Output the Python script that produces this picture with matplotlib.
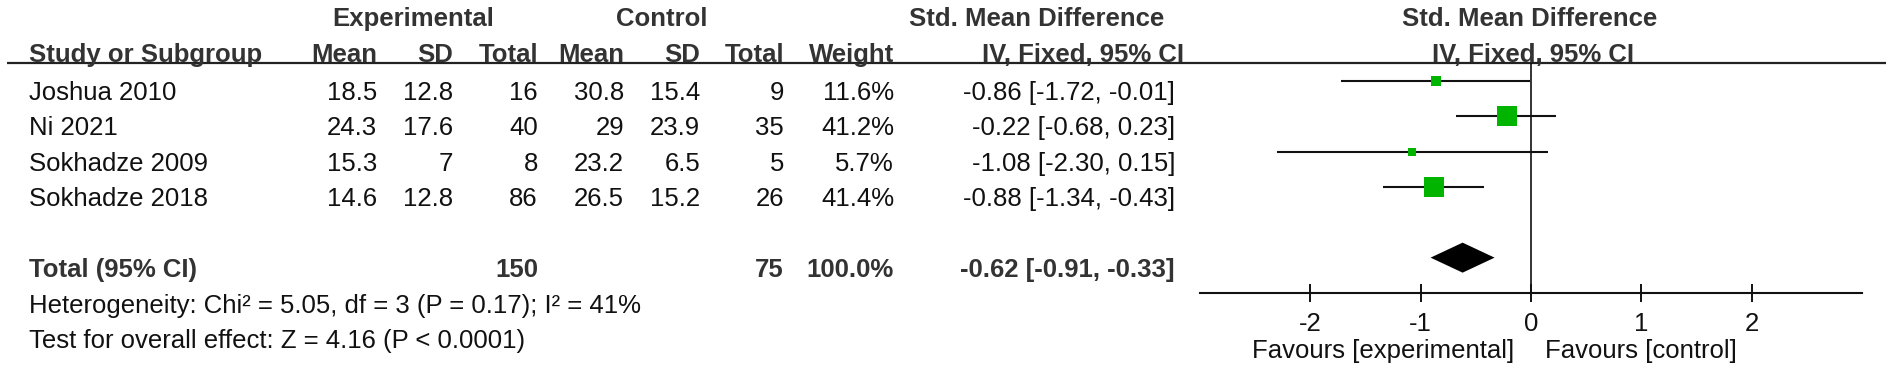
import matplotlib
matplotlib.use("Agg")
import matplotlib.pyplot as plt
import matplotlib.transforms as mtransforms

# ---------------- data ----------------
studies = ["Joshua 2010", "Ni 2021", "Sokhadze 2009", "Sokhadze 2018"]
exp_mean = [18.5, 24.3, 15.3, 14.6]
exp_sd = [12.8, 17.6, 7, 12.8]
exp_n = [16, 40, 8, 86]
ctl_mean = [30.8, 29, 23.2, 26.5]
ctl_sd = [15.4, 23.9, 6.5, 15.2]
ctl_n = [9, 35, 5, 26]
weights = [11.6, 41.2, 5.7, 41.4]
smd = [-0.86, -0.22, -1.08, -0.88]
ci_low = [-1.72, -0.68, -2.30, -1.34]
ci_high = [-0.01, 0.23, 0.15, -0.43]

total_label = "Total (95% CI)"
total_exp_n = 150
total_ctl_n = 75
total_weight = 100.0
total_smd = -0.62
total_low = -0.91
total_high = -0.33

heterogeneity = "Heterogeneity: Chi\u00b2 = 5.05, df = 3 (P = 0.17); I\u00b2 = 41%"
overall = "Test for overall effect: Z = 4.16 (P < 0.0001)"
x_ticks = [-2, -1, 0, 1, 2]
x_limits = [-3, 3]
favours_left = "Favours [experimental]"
favours_right = "Favours [control]"

# ---------------- styling ----------------
W, H = 1890, 378
DPI = 100
FONT = "Liberation Sans"
FS = 18.5
HEAD_C = "#333333"
TXT_C = "#111111"
GREEN = "#00B400"

plt.rcParams["font.family"] = [FONT, "DejaVu Sans"]

fig = plt.figure(figsize=(W / DPI, H / DPI), dpi=DPI)

# row geometry (pixels): first study line at y=81, spacing 35.33 px
ROW0, ROWH = 81.0, 35.33
def px_to_row(ypx):
    return (ypx - ROW0) / ROWH

axt = fig.add_axes([0, 0, 1, 1])
axt.set_xlim(0, W)
axt.set_ylim(px_to_row(H), px_to_row(0))
axt.axis("off")

BASE = 0.54  # baseline offset of text below the row line (rows)
total_row = len(studies) + 1

def t(x, y, s, ha="right", bold=False, color=TXT_C, **kw):
    axt.text(x, y, s, ha=ha, va="baseline", fontsize=FS,
             fontweight="bold" if bold else "normal", color=color, **kw)

# header
h1 = px_to_row(26)
h2 = px_to_row(62)
t(413, h1, "Experimental", ha="center", bold=True, color=HEAD_C)
t(662, h1, "Control", ha="center", bold=True, color=HEAD_C)
t(1037, h1, "Std. Mean Difference", ha="center", bold=True, color=HEAD_C)
t(1530, h1, "Std. Mean Difference", ha="center", bold=True, color=HEAD_C)

t(29, h2, "Study or Subgroup", ha="left", bold=True, color=HEAD_C)
col_x = [377, 453, 538, 624, 700, 784, 894]
for x, lab in zip(col_x, ["Mean", "SD", "Total", "Mean", "SD", "Total", "Weight"]):
    t(x, h2, lab, bold=True, color=HEAD_C)
t(1083, h2, "IV, Fixed, 95% CI", ha="center", bold=True, color=HEAD_C)
t(1533, h2, "IV, Fixed, 95% CI", ha="center", bold=True, color=HEAD_C)

axt.plot([7, 1886], [px_to_row(63)] * 2, color="#222222", lw=1.6,
         solid_capstyle="butt")

fmt = lambda v: f"{v:g}"
for i, name in enumerate(studies):
    y = i + BASE
    t(29, y, name, ha="left")
    vals = [fmt(exp_mean[i]), fmt(exp_sd[i]), str(exp_n[i]),
            fmt(ctl_mean[i]), fmt(ctl_sd[i]), str(ctl_n[i]),
            f"{weights[i]:.1f}%"]
    for x, s in zip(col_x, vals):
        t(x, y, s)
    t(1175, y, f"{smd[i]:.2f} [{ci_low[i]:.2f}, {ci_high[i]:.2f}]")

y = total_row + BASE
t(29, y, total_label, ha="left", bold=True, color=HEAD_C)
t(col_x[2], y, str(total_exp_n), bold=True, color=HEAD_C)
t(col_x[5], y, str(total_ctl_n), bold=True, color=HEAD_C)
t(col_x[6], y, f"{total_weight:.1f}%", bold=True, color=HEAD_C)
t(1175, y, f"{total_smd:.2f} [{total_low:.2f}, {total_high:.2f}]",
  bold=True, color=HEAD_C)

t(29, px_to_row(313), heterogeneity, ha="left")
t(29, px_to_row(348), overall, ha="left")

# ---------------- forest axes ----------------
x0, x1 = 1200, 1862
ytop, ybot = 63, 293
ax = fig.add_axes([x0 / W, 1 - ybot / H, (x1 - x0) / W, (ybot - ytop) / H])
ax.patch.set_visible(False)
ax.set_xlim(*x_limits)
ax.set_ylim(px_to_row(ybot), px_to_row(ytop))
for s in ["top", "left", "right"]:
    ax.spines[s].set_visible(False)
ax.spines["bottom"].set_linewidth(1.5)
ax.spines["bottom"].set_color("#111111")
ax.set_yticks([])
ax.set_xticks(x_ticks)
ax.set_xticklabels([f"{v:g}" for v in x_ticks], fontsize=FS, color=TXT_C)
ax.tick_params(axis="x", direction="inout", length=13, width=1.4,
               pad=7, colors="#111111")
for lab in ax.get_xticklabels():
    lab.set_color(TXT_C)

ax.axvline(0, color="#111111", lw=1.2, zorder=1)

wmax = max(weights)
for i in range(len(studies)):
    ax.plot([ci_low[i], ci_high[i]], [i, i], color="#111111", lw=1.5,
            solid_capstyle="butt", zorder=2)
    side_px = 5 + 15 * weights[i] / wmax
    ax.plot(smd[i], i, marker="s", ms=side_px * 72 / DPI, color=GREEN,
            mec=GREEN, mew=0, linestyle="none", zorder=3)

hh = 15 / ROWH
ax.fill([total_low, total_smd, total_high, total_smd],
        [total_row, total_row - hh, total_row, total_row + hh],
        color="black", lw=0, zorder=3)

trans = mtransforms.blended_transform_factory(ax.transData, ax.transAxes)
ax.annotate(favours_left, xy=(0, 0), xycoords=trans, xytext=(-12, -47),
            textcoords="offset points", ha="right", va="baseline",
            fontsize=FS, color=TXT_C)
ax.annotate(favours_right, xy=(0, 0), xycoords=trans, xytext=(10, -47),
            textcoords="offset points", ha="left", va="baseline",
            fontsize=FS, color=TXT_C)

fig.savefig("out.png", dpi=DPI, facecolor="white")
